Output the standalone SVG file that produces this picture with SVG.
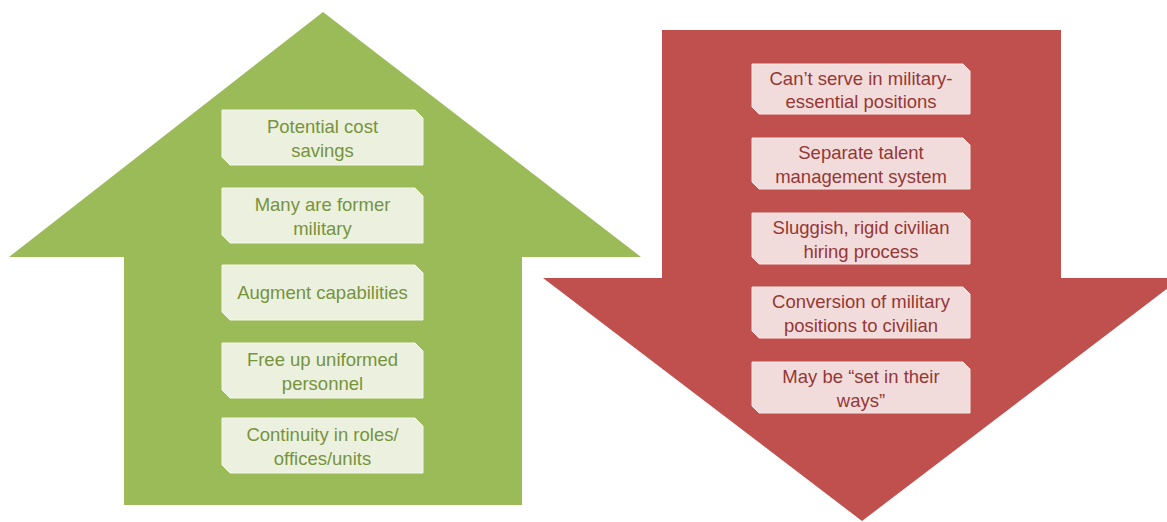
<svg xmlns="http://www.w3.org/2000/svg" width="1167" height="522" viewBox="0 0 1167 522">
  <style>
    .txt { font-family: "Liberation Sans", Arial, sans-serif; font-size: 18.5px; text-anchor: middle; }
    .g-box { fill: #EBF1DE; stroke: #F3F7EA; stroke-width: 1; }
    .g-txt { fill: #77933C; }
    .r-box { fill: #F2DCDB; stroke: #F7E8E7; stroke-width: 1; }
    .r-txt { fill: #953735; }
  </style>
  <rect width="1167" height="522" fill="#FFFFFF"/>

  <!-- pros: upward arrow -->
  <g id="pros-arrow">
    <polygon points="323,12 641,257 522,257 522,505 124,505 124,257 9,257" fill="#9BBB59"/>
  </g>
  <!-- cons: downward arrow -->
  <g id="cons-arrow">
    <polygon points="662,30 1061,30 1061,278 1181,278 862,521 543,278 662,278" fill="#C0504D"/>
  </g>

  <g id="pro-1">
    <path class="g-box" d="M222,110 H415 L423,118 V165 H230 L222,157 Z"/>
    <text class="txt g-txt" x="322.5" y="132.5">Potential cost</text>
    <text class="txt g-txt" x="322.5" y="156.5">savings</text>
  </g>
  <g id="pro-2">
    <path class="g-box" d="M222,188 H415 L423,196 V243 H230 L222,235 Z"/>
    <text class="txt g-txt" x="322.5" y="210.5">Many are former</text>
    <text class="txt g-txt" x="322.5" y="234.5">military</text>
  </g>
  <g id="pro-3">
    <path class="g-box" d="M222,265 H415 L423,273 V320 H230 L222,312 Z"/>
    <text class="txt g-txt" x="322.5" y="299">Augment capabilities</text>
  </g>
  <g id="pro-4">
    <path class="g-box" d="M222,343 H415 L423,351 V398 H230 L222,390 Z"/>
    <text class="txt g-txt" x="322.5" y="365.5">Free up uniformed</text>
    <text class="txt g-txt" x="322.5" y="389.5">personnel</text>
  </g>
  <g id="pro-5">
    <path class="g-box" d="M222,418 H415 L423,426 V473 H230 L222,465 Z"/>
    <text class="txt g-txt" x="322.5" y="440.5">Continuity in roles/</text>
    <text class="txt g-txt" x="322.5" y="464.5">offices/units</text>
  </g>

  <g id="con-1">
    <path class="r-box" d="M752,64 H963 L970,71 V114 H759 L752,107 Z"/>
    <text class="txt r-txt" x="861" y="84.5">Can’t serve in military-</text>
    <text class="txt r-txt" x="861" y="108">essential positions</text>
  </g>
  <g id="con-2">
    <path class="r-box" d="M752,138 H963 L970,145 V189 H759 L752,182 Z"/>
    <text class="txt r-txt" x="861" y="158.5">Separate talent</text>
    <text class="txt r-txt" x="861" y="182.5">management system</text>
  </g>
  <g id="con-3">
    <path class="r-box" d="M752,213 H963 L970,220 V264 H759 L752,257 Z"/>
    <text class="txt r-txt" x="861" y="233.5">Sluggish, rigid civilian</text>
    <text class="txt r-txt" x="861" y="257.5">hiring process</text>
  </g>
  <g id="con-4">
    <path class="r-box" d="M752,287 H963 L970,294 V338 H759 L752,331 Z"/>
    <text class="txt r-txt" x="861" y="307.5">Conversion of military</text>
    <text class="txt r-txt" x="861" y="331.5">positions to civilian</text>
  </g>
  <g id="con-5">
    <path class="r-box" d="M752,362 H963 L970,369 V413 H759 L752,406 Z"/>
    <text class="txt r-txt" x="861" y="382.5">May be “set in their</text>
    <text class="txt r-txt" x="861" y="406.5">ways”</text>
  </g>

  <!-- no connectors in this figure -->
  <g id="connectors"/>
</svg>
